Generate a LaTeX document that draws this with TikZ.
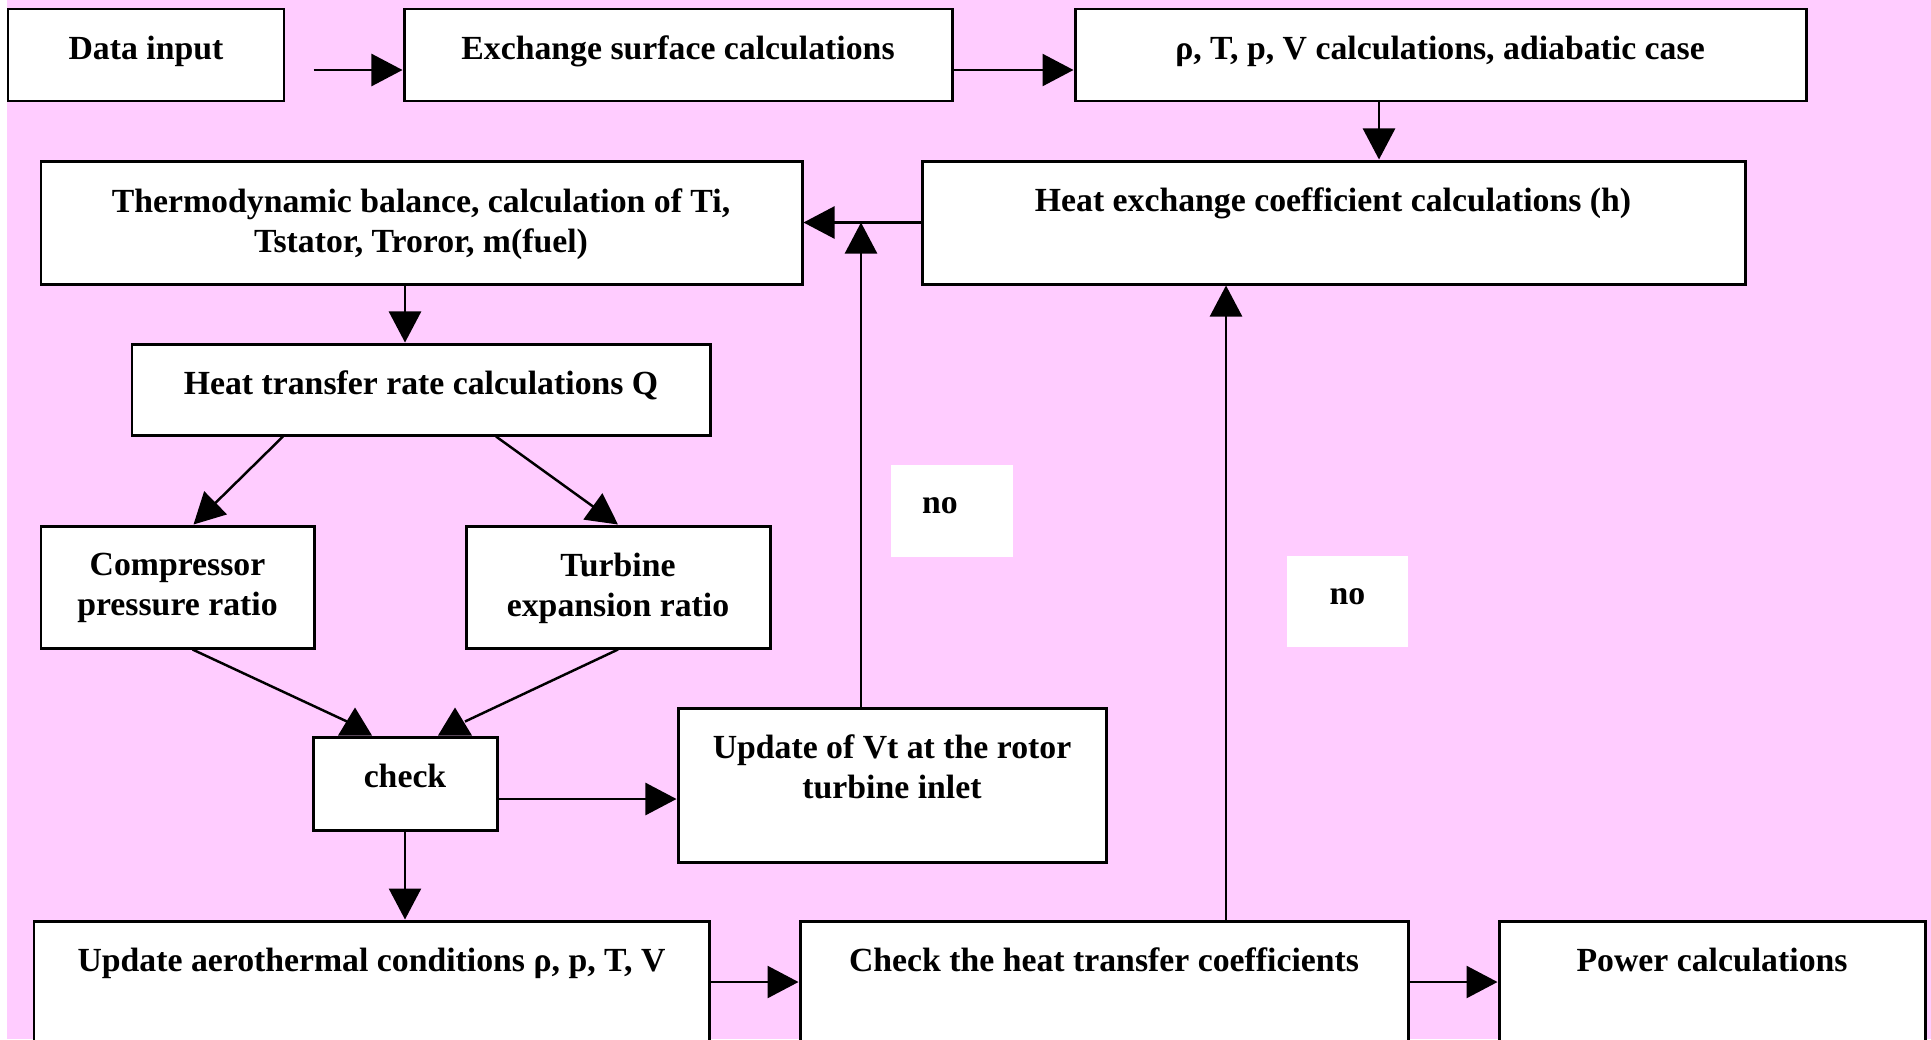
\documentclass[tikz,border=0pt]{standalone}
\usepackage{fontspec}
\setmainfont{Liberation Serif}
\usetikzlibrary{arrows.meta,fit}
\definecolor{bgpink}{RGB}{255,204,255}

\begin{document}
\begin{tikzpicture}[x=0.01cm,y=-0.01cm,
    box/.style={draw,line width=0.85pt,fill=white,inner sep=0pt},
    nobox/.style={fill=white,inner sep=0pt},
    txt/.style={inner sep=0pt,font=\fontsize{9.6}{11.4}\selectfont\bfseries,align=center},
    line/.style={line width=0.7pt},
    arr/.style={line width=0.7pt,-{Triangle[length=0.31cm,width=0.32cm]}}]
  \useasboundingbox (0,0) rectangle (1931,1039);
  \clip (0,0) rectangle (1931,1039);
  \fill [white] (0,0) rectangle (1931,1039);
  \fill [bgpink] (7,0) rectangle (1931,1039);

  % boxes
  \node[box,fit={(8,9) (284,101)}] (din) {};
  \node[box,fit={(404,9) (952,101)}] (exch) {};
  \node[box,fit={(1075,9) (1806,101)}] (rho) {};
  \node[box,fit={(922,161) (1745,284)}] (hex) {};
  \node[box,fit={(41,161) (802,284)}] (thermo) {};
  \node[box,fit={(132,344) (710,435)}] (Q) {};
  \node[box,fit={(41,526) (314,648)}] (comp) {};
  \node[box,fit={(466,526) (770,648)}] (turb) {};
  \node[box,fit={(313,737) (497,830)}] (check) {};
  \node[box,fit={(678,708) (1106,862)}] (upd) {};
  \node[box,fit={(34,921) (709,1100)}] (aero) {};
  \node[box,fit={(800,921) (1408,1100)}] (chk) {};
  \node[box,fit={(1499,921) (1925,1100)}] (pow) {};
  \node[nobox,fit={(891,465) (1013,557)}] (no1) {};
  \node[nobox,fit={(1287,556) (1408,647)}] (no2) {};

  % connectors
  \coordinate (rh) at (1379,0);
  \coordinate (vt) at (861,0);
  \coordinate (tq) at (405,0);
  \coordinate (cu) at (0,799);
  \coordinate (bt) at (0,982);
  \coordinate (cx) at (1226,0);
  \draw[arr] ([shift={(28,15)}]din.east) -- ([shift={(0,15)}]exch.west);
  \draw[arr] ([shift={(0,15)}]exch.east) -- ([shift={(0,15)}]rho.west);
  \draw[arr] (rho.south -| rh) -- (hex.north -| rh);
  \draw[arr] (hex.west) -- (thermo.east);
  \draw[arr] (upd.north -| vt) -- (hex.west -| vt);
  \draw[arr] (thermo.south -| tq) -- (Q.north -| tq);
  \draw[arr] ([shift={(-138,0)}]Q.south) -- ([shift={(16,0)}]comp.north);
  \draw[arr] ([shift={(75,0)}]Q.south) -- (turb.north);
  \draw[line] ([shift={(15,0)}]comp.south) -- ([shift={(-58,-14)}]check.north);
  \draw[line] (turb.south) -- ([shift={(60,-14)}]check.north);
  \foreach \dx in {-50,50}
    \fill ([shift={(\dx,-28)}]check.north) -- ([shift={(\dx-17,0)}]check.north)
      -- ([shift={(\dx+17,0)}]check.north) -- cycle;
  \draw[arr] (check.east |- cu) -- (upd.west |- cu);
  \draw[arr] (check.south) -- (check.south |- aero.north);
  \draw[arr] (aero.east |- bt) -- (chk.west |- bt);
  \draw[arr] (chk.north -| cx) -- (hex.south -| cx);
  \draw[arr] (chk.east |- bt) -- (pow.west |- bt);

  % texts
  \node[txt,anchor=base] (din-t) at (146,59) {Data input};
  \node[txt,anchor=base] (exch-t) at (678,59) {Exchange surface calculations};
  \node[txt,anchor=base] (rho-t) at (1440,59) {ρ, T, p, V calculations, adiabatic case};
  \node[txt,anchor=base] (hex-t) at (1333,211) {Heat exchange coefficient calculations (h)};
  \node[txt,anchor=north] (thermo-t) at (421,188) {Thermodynamic balance, calculation of Ti,\\Tstator, Troror, m(fuel)};
  \node[txt,anchor=base] (Q-t) at (421,394) {Heat transfer rate calculations Q};
  \node[txt,anchor=north] (comp-t) at (177.5,552) {Compressor\\pressure ratio};
  \node[txt,anchor=north] (turb-t) at (618,552) {Turbine\\expansion ratio};
  \node[txt,anchor=base] (check-t) at (405,787) {check};
  \node[txt,anchor=north] (upd-t) at (892,734) {Update of Vt at the rotor\\turbine inlet};
  \node[txt,anchor=base] (aero-t) at (371.5,971) {Update aerothermal conditions ρ, p, T, V};
  \node[txt,anchor=base] (chk-t) at (1104,971) {Check the heat transfer coefficients};
  \node[txt,anchor=base] (pow-t) at (1712,971) {Power calculations};
  \node[txt,anchor=base] (no1-t) at (940,513) {no};
  \node[txt,anchor=base] (no2-t) at (1347.5,604) {no};
\end{tikzpicture}
\end{document}
